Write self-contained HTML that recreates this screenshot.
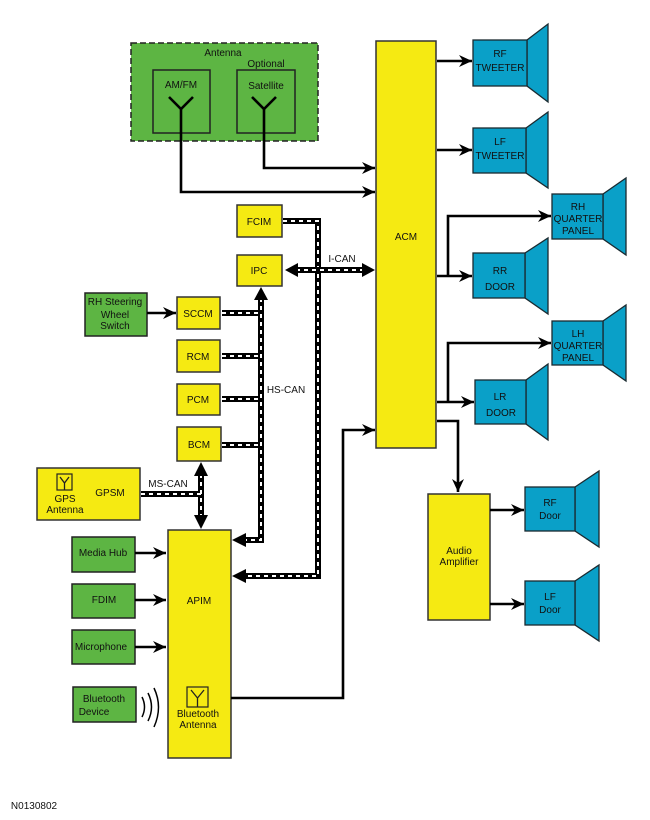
<!DOCTYPE html>
<html><head><meta charset="utf-8"><style>
body{margin:0;background:#fff}
svg{display:block}
text{font-family:"Liberation Sans",sans-serif;font-size:10px;fill:#111;text-anchor:middle}
.g{fill:#5db543;stroke:#222;stroke-width:1.5}
.y{fill:#f5ea12;stroke:#333;stroke-width:1.5}
.b{fill:#0aa0c8;stroke:#1a2a30;stroke-width:1.3}
.w{fill:none;stroke:#000;stroke-width:2.6}
.bus{fill:none;stroke:#000;stroke-width:6}
.bd{fill:none;stroke:#fff;stroke-width:2;stroke-dasharray:4 4}
</style></head><body>
<svg width="650" height="820" viewBox="0 0 650 820">
<defs>
<marker id="a" markerUnits="userSpaceOnUse" markerWidth="14" markerHeight="12" refX="13" refY="6" orient="auto"><path d="M0,0 L13,6 L0,12 L4,6 Z" fill="#000"/></marker>
</defs>
<!-- antenna -->
<rect x="131" y="43" width="187" height="98" fill="#5db543" stroke="#222" stroke-width="1.5" stroke-dasharray="6 3"/>
<text x="223" y="56">Antenna</text>
<text x="266" y="67">Optional</text>
<rect x="153" y="70" width="57" height="63" fill="none" stroke="#222" stroke-width="1.5"/>
<rect x="237" y="70" width="58" height="63" fill="none" stroke="#222" stroke-width="1.5"/>
<text x="181" y="88">AM/FM</text>
<text x="266" y="89">Satellite</text>
<path d="M169,97 L181,109 L193,97" fill="none" stroke="#000" stroke-width="2.6"/>
<path d="M252,97 L264,109 L276,97" fill="none" stroke="#000" stroke-width="2.6"/>
<path class="w" d="M181,108 V192 H375" marker-end="url(#a)"/>
<path class="w" d="M264,108 V168 H375" marker-end="url(#a)"/>
<!-- ACM -->
<rect class="y" x="376" y="41" width="60" height="407"/>
<text x="406" y="240">ACM</text>
<!-- buses -->
<path class="bus" d="M283,221 H318 V576 H245"/>
<path class="bd" d="M283,221 H318 V576 H245"/>
<path class="bus" d="M222,313 H261 M222,356 H261 M222,399 H261 M222,445 H261 M261,298 V540 H245"/>
<path class="bd" d="M222,313 H261 M222,356 H261 M222,399 H261 M222,445 H261 M261,298 V540 H245"/>
<path class="bus" d="M296,270 H362"/><path class="bd" d="M296,270 H362"/>
<path class="bus" d="M141,494 H201 M201,474 V516"/><path class="bd" d="M141,494 H201 M201,474 V516"/>
<polygon points="232,540 246,533 246,547"/>
<polygon points="232,576 246,569 246,583"/>
<polygon points="285,270 298,263 298,277"/>
<polygon points="375,270 362,263 362,277"/>
<polygon points="261,287 254,300 268,300"/>
<polygon points="201,462 194,476 208,476"/>
<polygon points="201,529 194,515 208,515"/>
<text x="342" y="262">I-CAN</text>
<text x="286" y="393">HS-CAN</text>
<text x="168" y="487">MS-CAN</text>
<!-- modules -->
<rect class="y" x="237" y="205" width="45" height="32"/><text x="259" y="225">FCIM</text>
<rect class="y" x="237" y="255" width="45" height="31"/><text x="259" y="274">IPC</text>
<rect class="y" x="177" y="297" width="43" height="32"/><text x="198" y="317">SCCM</text>
<rect class="y" x="177" y="340" width="43" height="32"/><text x="198" y="360">RCM</text>
<rect class="y" x="177" y="384" width="43" height="31"/><text x="198" y="403">PCM</text>
<rect class="y" x="177" y="427" width="44" height="34"/><text x="199" y="448">BCM</text>
<rect class="g" x="85" y="293" width="62" height="43"/>
<text x="115" y="305">RH Steering</text><text x="115" y="318">Wheel</text><text x="115" y="329">Switch</text>
<path class="w" d="M147,313 H176" marker-end="url(#a)"/>
<rect class="y" x="37" y="468" width="103" height="52"/>
<rect x="57" y="474" width="15" height="16" fill="none" stroke="#222" stroke-width="1.2"/>
<path d="M60,477 L64.5,483 L69,477 M64.5,483 V490" fill="none" stroke="#222" stroke-width="1.3"/>
<text x="65" y="502">GPS</text><text x="65" y="513">Antenna</text>
<text x="110" y="496">GPSM</text>
<!-- APIM -->
<rect class="y" x="168" y="530" width="63" height="228"/>
<text x="199" y="604">APIM</text>
<rect x="187" y="687" width="21" height="20" fill="none" stroke="#222" stroke-width="1.2"/>
<path d="M191,690 L197.5,698 L204,690 M197.5,698 V707" fill="none" stroke="#222" stroke-width="1.3"/>
<text x="198" y="717">Bluetooth</text><text x="198" y="728">Antenna</text>
<rect class="g" x="72" y="537" width="63" height="35"/><text x="103" y="556">Media Hub</text>
<rect class="g" x="72" y="584" width="63" height="34"/><text x="104" y="603">FDIM</text>
<rect class="g" x="72" y="630" width="63" height="34"/><text x="101" y="650">Microphone</text>
<rect class="g" x="73" y="687" width="63" height="35"/><text x="104" y="702">Bluetooth</text><text x="94" y="715">Device</text>
<path class="w" d="M135,553 H166" marker-end="url(#a)"/>
<path class="w" d="M135,600 H166" marker-end="url(#a)"/>
<path class="w" d="M135,647 H166" marker-end="url(#a)"/>
<path d="M142,697 Q147,707 142,717 M148,693 Q155,707 148,721 M154,688 Q163,707 154,727" fill="none" stroke="#000" stroke-width="1.5"/>
<path class="w" d="M231,698 H343 V430 H375" marker-end="url(#a)"/>
<!-- speakers -->
<path class="w" d="M437,61 H472" marker-end="url(#a)"/>
<path class="w" d="M437,150 H472" marker-end="url(#a)"/>
<path class="w" d="M437,276 H448 M448,276 V216 H551" marker-end="url(#a)"/>
<path class="w" d="M448,276 H472" marker-end="url(#a)"/>
<path class="w" d="M437,402 H448 M448,402 V343 H551" marker-end="url(#a)"/>
<path class="w" d="M448,402 H474" marker-end="url(#a)"/>
<path class="w" d="M437,421 H458 V492" marker-end="url(#a)"/>
<g>
<polygon class="b" points="527,40 548,24 548,102 527,86"/><rect class="b" x="473" y="40" width="54" height="46"/><text x="500" y="57">RF</text><text x="500" y="71">TWEETER</text>
<polygon class="b" points="526,128 548,112 548,188 526,173"/><rect class="b" x="473" y="128" width="53" height="45"/><text x="500" y="145">LF</text><text x="500" y="159">TWEETER</text>
<polygon class="b" points="603,194 626,178 626,255 603,239"/><rect class="b" x="552" y="194" width="51" height="45"/><text x="578" y="210">RH</text><text x="578" y="222">QUARTER</text><text x="578" y="234">PANEL</text>
<polygon class="b" points="525,253 548,238 548,314 525,298"/><rect class="b" x="473" y="253" width="52" height="45"/><text x="500" y="274">RR</text><text x="500" y="290">DOOR</text>
<polygon class="b" points="603,321 626,305 626,381 603,365"/><rect class="b" x="552" y="321" width="51" height="44"/><text x="578" y="337">LH</text><text x="578" y="349">QUARTER</text><text x="578" y="361">PANEL</text>
<polygon class="b" points="526,380 548,364 548,440 526,424"/><rect class="b" x="475" y="380" width="51" height="44"/><text x="500" y="400">LR</text><text x="501" y="416">DOOR</text>
</g>
<rect class="y" x="428" y="494" width="62" height="126"/>
<text x="459" y="554">Audio</text><text x="459" y="565">Amplifier</text>
<path class="w" d="M490,510 H524" marker-end="url(#a)"/>
<path class="w" d="M490,604 H524" marker-end="url(#a)"/>
<polygon class="b" points="575,487 599,471 599,547 575,531"/><rect class="b" x="525" y="487" width="50" height="44"/><text x="550" y="506">RF</text><text x="550" y="519">Door</text>
<polygon class="b" points="575,581 599,565 599,641 575,625"/><rect class="b" x="525" y="581" width="50" height="44"/><text x="550" y="600">LF</text><text x="550" y="613">Door</text>
<text x="34" y="809" style="font-size:10px">N0130802</text>
</svg>
</body></html>
